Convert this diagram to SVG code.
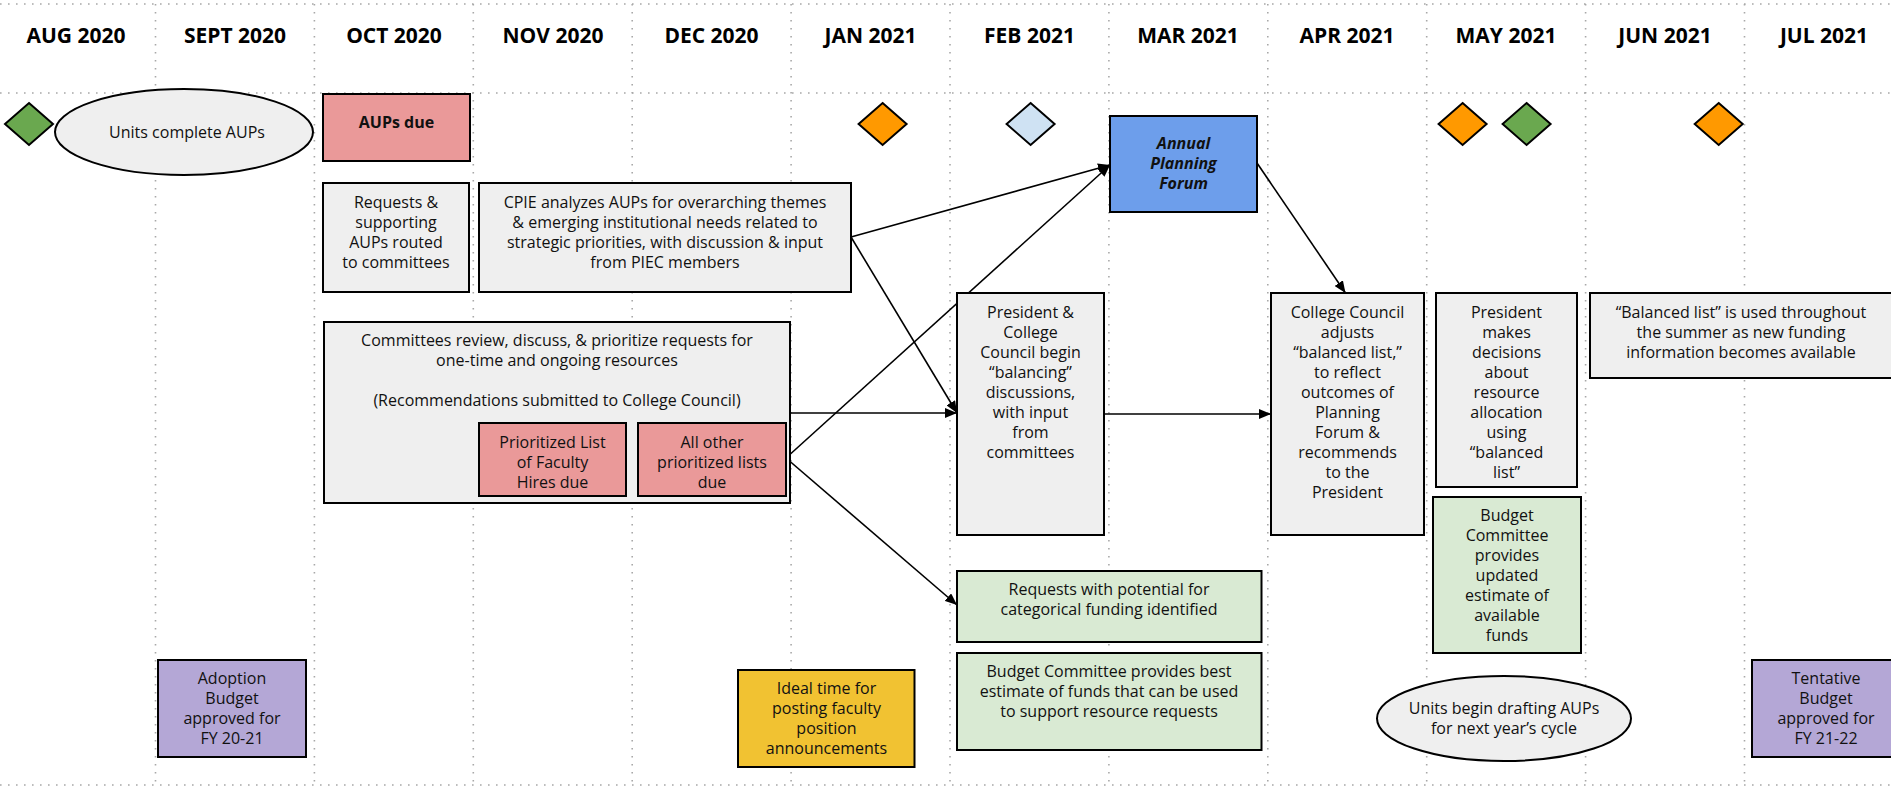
<svg xmlns="http://www.w3.org/2000/svg" width="1891" height="788" viewBox="0 0 1891 788">
<defs>
<marker id="arr" viewBox="0 0 12 10" refX="12" refY="5" markerWidth="12" markerHeight="10" markerUnits="userSpaceOnUse" orient="auto">
<path d="M0,0 L12,5 L0,10 z" fill="#000"/>
</marker>
<style>
.grid{stroke:#a8a8a8;stroke-width:1.6;stroke-dasharray:1.6 6.4;fill:none}
.hd{font-family:"Open Sans","Liberation Sans",sans-serif;font-weight:bold;font-size:21px;fill:#000;text-anchor:middle}
.t{font-family:"Open Sans","Liberation Sans",sans-serif;font-size:16px;fill:#111;text-anchor:middle}
.b{font-weight:bold}
.bi{font-weight:bold;font-style:italic}
.box{stroke:#000;stroke-width:2}
.gray{fill:#efefef}
.pink{fill:#ea9999}
.blue{fill:#6d9eeb}
.purple{fill:#b4a7d6}
.lgreen{fill:#d9ead3}
.yellow{fill:#f1c232}
.orange{fill:#ff9900}
.green{fill:#6aa84f}
.lblue{fill:#cfe2f3}
.conn{stroke:#000;stroke-width:1.6;fill:none;marker-end:url(#arr)}
</style>
</defs>
<rect width="1891" height="788" fill="#fff"/>
<g id="grid">
<line class="grid" x1="0" y1="4" x2="1891" y2="4"/>
<line class="grid" x1="0" y1="93" x2="1891" y2="93"/>
<line class="grid" x1="0" y1="785" x2="1891" y2="785"/>
<line class="grid" x1="155.5" y1="4" x2="155.5" y2="785"/>
<line class="grid" x1="314.4" y1="4" x2="314.4" y2="785"/>
<line class="grid" x1="473.3" y1="4" x2="473.3" y2="785"/>
<line class="grid" x1="632.2" y1="4" x2="632.2" y2="785"/>
<line class="grid" x1="791.1" y1="4" x2="791.1" y2="785"/>
<line class="grid" x1="950" y1="4" x2="950" y2="785"/>
<line class="grid" x1="1108.9" y1="4" x2="1108.9" y2="785"/>
<line class="grid" x1="1267.8" y1="4" x2="1267.8" y2="785"/>
<line class="grid" x1="1426.7" y1="4" x2="1426.7" y2="785"/>
<line class="grid" x1="1585.6" y1="4" x2="1585.6" y2="785"/>
<line class="grid" x1="1744.5" y1="4" x2="1744.5" y2="785"/>
</g>
<g id="headers">
<text class="hd" x="76" y="42.5">AUG 2020</text>
<text class="hd" x="235" y="42.5">SEPT 2020</text>
<text class="hd" x="394" y="42.5">OCT 2020</text>
<text class="hd" x="553" y="42.5">NOV 2020</text>
<text class="hd" x="711.5" y="42.5">DEC 2020</text>
<text class="hd" x="870.5" y="42.5">JAN 2021</text>
<text class="hd" x="1029.5" y="42.5">FEB 2021</text>
<text class="hd" x="1188" y="42.5">MAR 2021</text>
<text class="hd" x="1347" y="42.5">APR 2021</text>
<text class="hd" x="1506" y="42.5">MAY 2021</text>
<text class="hd" x="1665" y="42.5">JUN 2021</text>
<text class="hd" x="1824" y="42.5">JUL 2021</text>
</g>
<g id="connectors">
<line class="conn" x1="851" y1="237" x2="1110" y2="165"/>
<line class="conn" x1="851" y1="237" x2="957" y2="413"/>
<line class="conn" x1="786" y1="458" x2="1110" y2="165"/>
<line class="conn" x1="786" y1="458" x2="957" y2="605"/>
<line class="conn" x1="790" y1="413" x2="957" y2="413"/>
<line class="conn" x1="1104" y1="414" x2="1271" y2="414"/>
<line class="conn" x1="1257" y1="163" x2="1345.5" y2="293"/>
</g>
<g id="diamond-aug"><polygon class="box green" points="29,103 53,124 29,145 5,124"/></g>
<g id="diamond-jan"><polygon class="box orange" points="882.6,103 906.6,124 882.6,145 858.6,124"/></g>
<g id="diamond-feb"><polygon class="box lblue" points="1030.6,103 1054.6,124 1030.6,145 1006.6,124"/></g>
<g id="diamond-may1"><polygon class="box orange" points="1462.6,103 1486.6,124 1462.6,145 1438.6,124"/></g>
<g id="diamond-may2"><polygon class="box green" points="1526.6,103 1550.6,124 1526.6,145 1502.6,124"/></g>
<g id="diamond-jun"><polygon class="box orange" points="1718.7,103 1742.7,124 1718.7,145 1694.7,124"/></g>
<g id="units-complete">
<ellipse class="box gray" cx="184" cy="132" rx="129" ry="43"/>
<text class="t" x="187" y="137.5">Units complete AUPs</text>
</g>
<g id="aups-due">
<rect class="box pink" x="323" y="94" width="147" height="67"/>
<text class="t b" x="396.5" y="127.5">AUPs due</text>
</g>
<g id="requests-routed">
<rect class="box gray" x="323" y="183" width="146" height="109"/>
<text class="t" x="396" y="208">Requests &amp;</text>
<text class="t" x="396" y="228">supporting</text>
<text class="t" x="396" y="248">AUPs routed</text>
<text class="t" x="396" y="268">to committees</text>
</g>
<g id="cpie">
<rect class="box gray" x="479" y="183" width="372" height="109"/>
<text class="t" x="665" y="208">CPIE analyzes AUPs for overarching themes</text>
<text class="t" x="665" y="228">&amp; emerging institutional needs related to</text>
<text class="t" x="665" y="248">strategic priorities, with discussion &amp; input</text>
<text class="t" x="665" y="268">from PIEC members</text>
</g>
<g id="committees">
<rect class="box gray" x="324" y="322" width="466" height="181"/>
<text class="t" x="557" y="346">Committees review, discuss, &amp; prioritize requests for</text>
<text class="t" x="557" y="366">one-time and ongoing resources</text>
<text class="t" x="557" y="406">(Recommendations submitted to College Council)</text>
</g>
<g id="faculty-hires">
<rect class="box pink" x="479" y="423" width="147" height="73"/>
<text class="t" x="552.5" y="447.5">Prioritized List</text>
<text class="t" x="552.5" y="467.5">of Faculty</text>
<text class="t" x="552.5" y="487.5">Hires due</text>
</g>
<g id="other-lists">
<rect class="box pink" x="638" y="423" width="148" height="73"/>
<text class="t" x="712" y="447.5">All other</text>
<text class="t" x="712" y="467.5">prioritized lists</text>
<text class="t" x="712" y="487.5">due</text>
</g>
<g id="planning-forum">
<rect class="box blue" x="1110" y="116" width="147" height="96"/>
<text class="t bi" x="1183.5" y="149">Annual</text>
<text class="t bi" x="1183.5" y="169">Planning</text>
<text class="t bi" x="1183.5" y="189">Forum</text>
</g>
<g id="balancing">
<rect class="box gray" x="957" y="293" width="147" height="242"/>
<text class="t" x="1030.5" y="317.5">President &amp;</text>
<text class="t" x="1030.5" y="337.5">College</text>
<text class="t" x="1030.5" y="357.5">Council begin</text>
<text class="t" x="1030.5" y="377.5">“balancing”</text>
<text class="t" x="1030.5" y="397.5">discussions,</text>
<text class="t" x="1030.5" y="417.5">with input</text>
<text class="t" x="1030.5" y="437.5">from</text>
<text class="t" x="1030.5" y="457.5">committees</text>
</g>
<g id="council-adjusts">
<rect class="box gray" x="1271" y="293" width="153" height="242"/>
<text class="t" x="1347.5" y="317.5">College Council</text>
<text class="t" x="1347.5" y="337.5">adjusts</text>
<text class="t" x="1347.5" y="357.5">“balanced list,”</text>
<text class="t" x="1347.5" y="377.5">to reflect</text>
<text class="t" x="1347.5" y="397.5">outcomes of</text>
<text class="t" x="1347.5" y="417.5">Planning</text>
<text class="t" x="1347.5" y="437.5">Forum &amp;</text>
<text class="t" x="1347.5" y="457.5">recommends</text>
<text class="t" x="1347.5" y="477.5">to the</text>
<text class="t" x="1347.5" y="497.5">President</text>
</g>
<g id="president-decides">
<rect class="box gray" x="1436" y="293" width="141" height="194"/>
<text class="t" x="1506.5" y="317.5">President</text>
<text class="t" x="1506.5" y="337.5">makes</text>
<text class="t" x="1506.5" y="357.5">decisions</text>
<text class="t" x="1506.5" y="377.5">about</text>
<text class="t" x="1506.5" y="397.5">resource</text>
<text class="t" x="1506.5" y="417.5">allocation</text>
<text class="t" x="1506.5" y="437.5">using</text>
<text class="t" x="1506.5" y="457.5">“balanced</text>
<text class="t" x="1506.5" y="477.5">list”</text>
</g>
<g id="balanced-list-summer">
<rect class="box gray" x="1590" y="293" width="310" height="85"/>
<text class="t" x="1741" y="317.5">“Balanced list” is used throughout</text>
<text class="t" x="1741" y="337.5">the summer as new funding</text>
<text class="t" x="1741" y="357.5">information becomes available</text>
</g>
<g id="budget-updated">
<rect class="box lgreen" x="1433" y="497" width="148" height="156"/>
<text class="t" x="1507" y="521">Budget</text>
<text class="t" x="1507" y="541">Committee</text>
<text class="t" x="1507" y="561">provides</text>
<text class="t" x="1507" y="581">updated</text>
<text class="t" x="1507" y="601">estimate of</text>
<text class="t" x="1507" y="621">available</text>
<text class="t" x="1507" y="641">funds</text>
</g>
<g id="categorical">
<rect class="box lgreen" x="957" y="571" width="304.5" height="71"/>
<text class="t" x="1109" y="595">Requests with potential for</text>
<text class="t" x="1109" y="615">categorical funding identified</text>
</g>
<g id="budget-best">
<rect class="box lgreen" x="957" y="653" width="304.5" height="97"/>
<text class="t" x="1109" y="677">Budget Committee provides best</text>
<text class="t" x="1109" y="697">estimate of funds that can be used</text>
<text class="t" x="1109" y="717">to support resource requests</text>
</g>
<g id="ideal-time">
<rect class="box yellow" x="738" y="670" width="176.5" height="97"/>
<text class="t" x="826.5" y="694">Ideal time for</text>
<text class="t" x="826.5" y="714">posting faculty</text>
<text class="t" x="826.5" y="734">position</text>
<text class="t" x="826.5" y="754">announcements</text>
</g>
<g id="adoption-budget">
<rect class="box purple" x="158" y="660" width="148" height="97"/>
<text class="t" x="232" y="684">Adoption</text>
<text class="t" x="232" y="704">Budget</text>
<text class="t" x="232" y="724">approved for</text>
<text class="t" x="232" y="744">FY 20-21</text>
</g>
<g id="units-begin">
<ellipse class="box gray" cx="1504" cy="718.5" rx="127" ry="42.5"/>
<text class="t" x="1504" y="714">Units begin drafting AUPs</text>
<text class="t" x="1504" y="734">for next year’s cycle</text>
</g>
<g id="tentative-budget">
<rect class="box purple" x="1752" y="660" width="148" height="97"/>
<text class="t" x="1826" y="684">Tentative</text>
<text class="t" x="1826" y="704">Budget</text>
<text class="t" x="1826" y="724">approved for</text>
<text class="t" x="1826" y="744">FY 21-22</text>
</g>
</svg>
